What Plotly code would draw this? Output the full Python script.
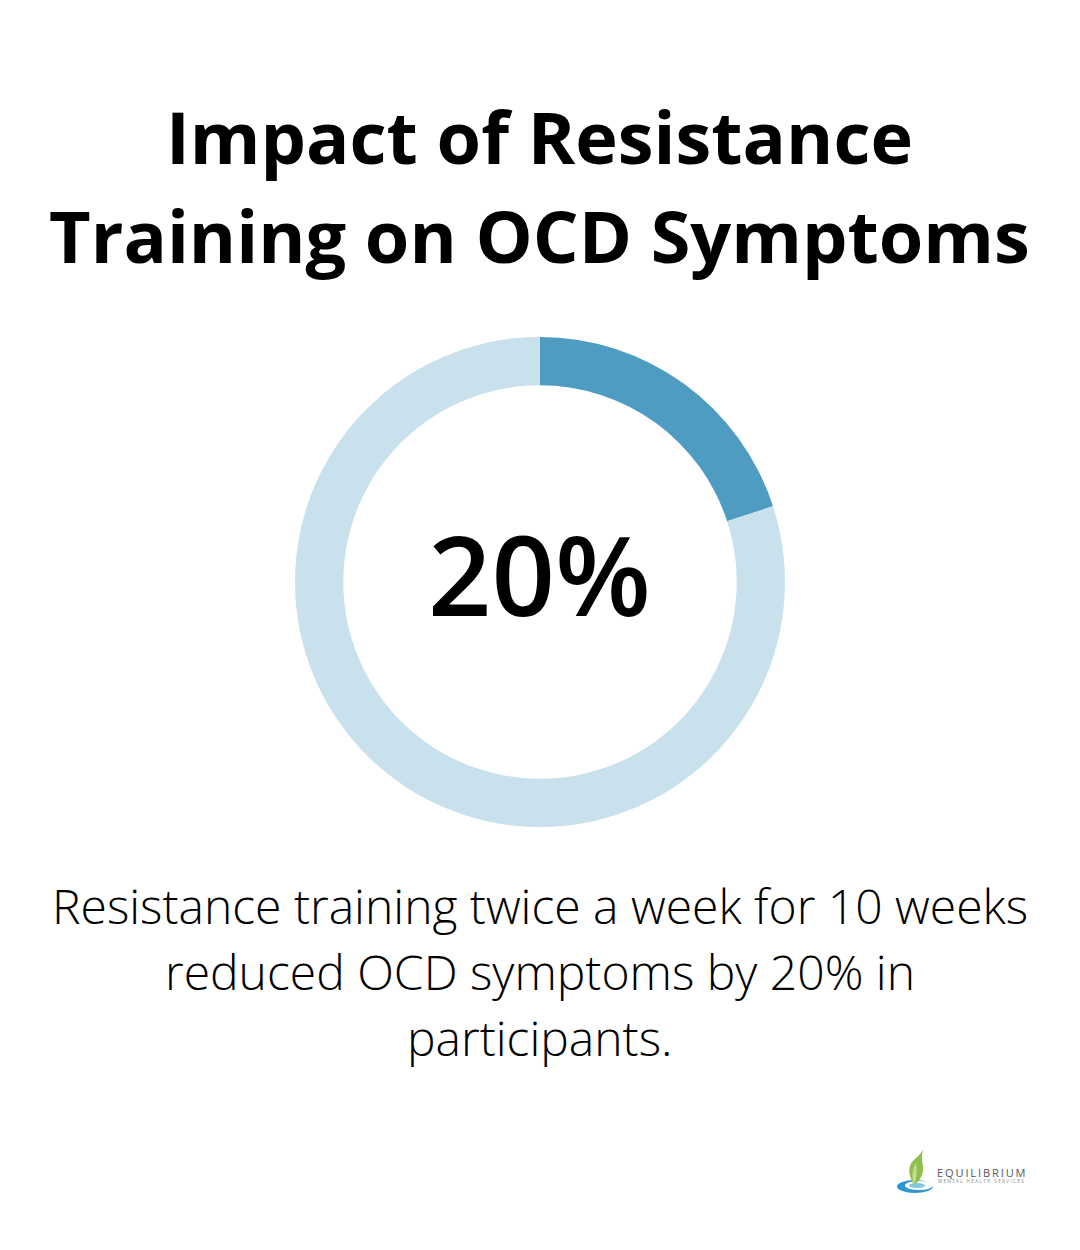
import plotly.graph_objects as go

labels = ["Reduced", "Rest"]
values = [20, 80]
colors = ["#4f9cc3", "#c9e1ed"]

title_lines = ["Impact of Resistance", "Training on OCD Symptoms"]
big_number = "20%"
body_lines = ["Resistance training twice a week for 10 weeks",
              "reduced OCD symptoms by 20% in",
              "participants."]
logo_name = "EQUILIBRIUM"
logo_sub = "MENTAL HEALTH SERVICES"

# page body has an 8px margin, so the figure starts at (8, 8)
W = 1072
H = 1242

fig = go.Figure(
    data=[go.Pie(labels=labels, values=values, hole=0.803, sort=False,
                 direction="clockwise", rotation=0,
                 marker=dict(colors=colors, line=dict(width=0)),
                 textinfo="none", hoverinfo="none", showlegend=False,
                 domain=dict(x=[287 / W, 777 / W], y=[1 - 819 / H, 1 - 329 / H]))]
)


def add_text(txt, y, size, weight=400, color="#000000", x=531.7):
    fig.add_annotation(text=txt, x=x / W, y=1 - y / H, xref="paper", yref="paper",
                       showarrow=False, xanchor="center", yanchor="middle",
                       font=dict(family="Open Sans", size=size, color=color, weight=weight))


def px(x, y):
    return f"{x / W:.5f} {1 - y / H:.5f}"


def add_path(points, fill):
    # points: M start, then cubic segments
    d = "M " + px(*points[0])
    for i in range(1, len(points), 3):
        d += " C " + ", ".join(px(*p) for p in points[i:i + 3])
    fig.add_shape(type="path", path=d + " Z", xref="paper", yref="paper",
                  fillcolor=fill, line=dict(width=0))


add_text(title_lines[0], 128, 72, 700)
add_text(title_lines[1], 227, 72, 700)
add_text(big_number, 565, 111, 600)
add_text(body_lines[0], 897, 48, 300)
add_text(body_lines[1], 963, 48, 300)
add_text(body_lines[2], 1029, 48, 300)

# logo
fig.add_shape(type="circle", xref="paper", yref="paper",
              x0=889 / W, x1=925 / W, y0=1 - 1185 / H, y1=1 - 1172 / H,
              fillcolor="#2e97cf", line=dict(width=0))
fig.add_shape(type="circle", xref="paper", yref="paper",
              x0=897 / W, x1=925 / W, y0=1 - 1182 / H, y1=1 - 1173 / H,
              fillcolor="#ffffff", line=dict(width=0))
fig.add_shape(type="circle", xref="paper", yref="paper",
              x0=901 / W, x1=917 / W, y0=1 - 1180 / H, y1=1 - 1175 / H,
              fillcolor="#7cc8e4", line=dict(width=0))
add_path([(906, 1177), (899, 1165), (900, 1156), (908, 1150),
          (912, 1147), (914, 1143), (917, 1139),
          (911, 1146), (916, 1156), (915, 1163),
          (914, 1170), (910, 1174), (906, 1177)], "#8fc04f")
add_path([(906, 1177), (903, 1168), (905, 1160), (908, 1155),
          (909, 1162), (909, 1170), (906, 1177)], "#c3dc8f")

add_text(f'<span style="letter-spacing:1.9px">{logo_name}</span>', 1164, 11, 500, "#555555", 973.5)
add_text(f'<span style="letter-spacing:1.4px">{logo_sub}</span>', 1173, 4.5, 400, "#888888", 973.5)

fig.update_layout(width=W, height=H, margin=dict(l=0, r=0, t=0, b=0),
                  paper_bgcolor="white", plot_bgcolor="white")
fig.write_html("out.html")
